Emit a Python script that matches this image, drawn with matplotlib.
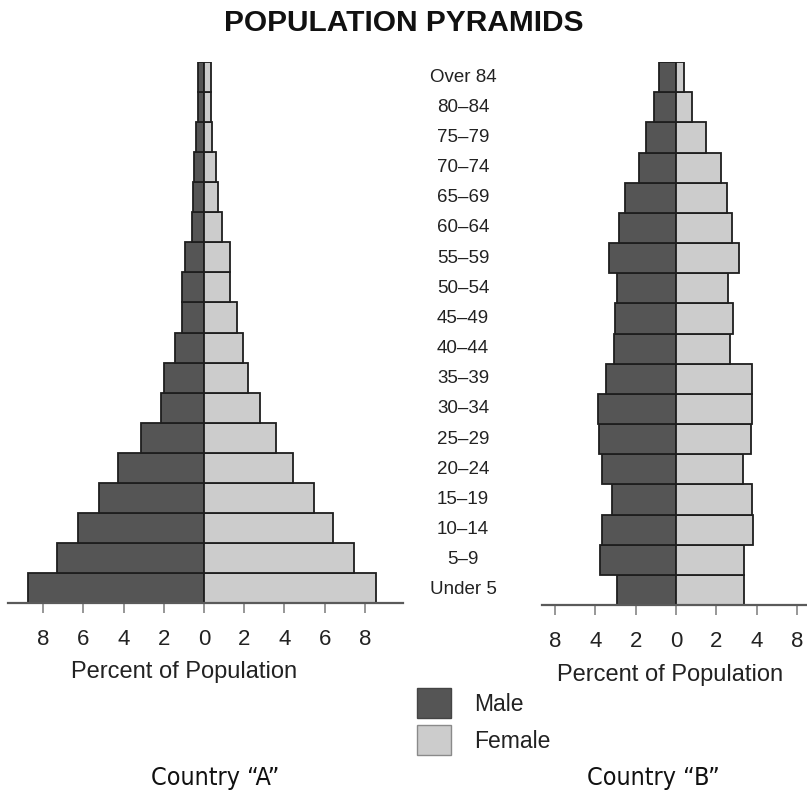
import matplotlib
matplotlib.use("Agg")
import matplotlib.pyplot as plt
import matplotlib.transforms as mtransforms
from matplotlib.patches import Patch
import numpy as np

# Age groups, youngest first
age_groups = ["Under 5", "5\u20139", "10\u201314", "15\u201319", "20\u201324", "25\u201329",
              "30\u201334", "35\u201339", "40\u201344", "45\u201349", "50\u201354", "55\u201359",
              "60\u201364", "65\u201369", "70\u201374", "75\u201379", "80\u201384", "Over 84"]

# Country "A": percent of population by age group
male_a = [8.75, 7.3, 6.25, 5.2, 4.3, 3.15, 2.15, 2.0, 1.45, 1.1, 1.1, 0.95,
          0.6, 0.55, 0.5, 0.4, 0.3, 0.3]
female_a = [8.55, 7.45, 6.4, 5.45, 4.45, 3.6, 2.8, 2.2, 1.95, 1.65, 1.3, 1.3,
            0.9, 0.7, 0.6, 0.4, 0.35, 0.35]

# Country "B": percent of population by age group
male_b = [2.95, 3.75, 3.65, 3.2, 3.65, 3.8, 3.85, 3.45, 3.1, 3.05, 2.95, 3.35,
          2.85, 2.55, 1.85, 1.5, 1.1, 0.85]
female_b = [3.35, 3.35, 3.8, 3.75, 3.3, 3.7, 3.75, 3.75, 2.7, 2.85, 2.6, 3.15,
            2.8, 2.55, 2.25, 1.5, 0.8, 0.4]

# Tick positions and their printed labels
ticks_a = [-8, -6, -4, -2, 0, 2, 4, 6, 8]
ticklabels_a = ["8", "6", "4", "2", "0", "2", "4", "6", "8"]
ticks_b = [-6, -4, -2, 0, 2, 4, 6]
ticklabels_b = ["8", "4", "2", "0", "2", "4", "8"]

MALE_COLOR = "#555555"
FEMALE_COLOR = "#cccccc"
EDGE_COLOR = "#1e1e1e"
AXIS_COLOR = "#5a5a5a"
SANS = ["Liberation Sans", "DejaVu Sans"]

plt.rcParams["font.family"] = SANS

W, H = 807, 799
fig = plt.figure(figsize=(W / 100, H / 100), dpi=100)


def px_axes(left, top, right, bottom):
    return fig.add_axes([left / W, 1 - bottom / H, (right - left) / W, (bottom - top) / H])


def pyramid(ax, male, female, xlim, ticks, ticklabels, label_x):
    y = np.arange(len(age_groups)) + 0.5
    ax.barh(y, -np.asarray(male), height=1.0, color=MALE_COLOR,
            edgecolor=EDGE_COLOR, linewidth=1.3)
    ax.barh(y, female, height=1.0, color=FEMALE_COLOR,
            edgecolor=EDGE_COLOR, linewidth=1.3)
    ax.set_xlim(*xlim)
    ax.set_ylim(0, len(age_groups))
    for side in ("left", "right", "top"):
        ax.spines[side].set_visible(False)
    ax.spines["bottom"].set_color(AXIS_COLOR)
    ax.spines["bottom"].set_linewidth(1.6)
    ax.set_yticks([])
    ax.set_xticks(ticks)
    ax.set_xticklabels(ticklabels)
    ax.tick_params(axis="x", direction="out", length=7.5, width=1.1,
                   color="#7a7a7a", pad=11, labelsize=16, labelcolor="#222222")
    ax.set_xlabel("Percent of Population", fontsize=17, color="#222222")
    ax.xaxis.set_label_coords(label_x, -0.128)
    ax.xaxis.label.set_va("center")
    ax.set_facecolor("none")


axA = px_axes(8, 62, 403, 603)
pyramid(axA, male_a, female_a, (-9.75, 9.9), ticks_a, ticklabels_a, 0.446)

axB = px_axes(542, 62, 807, 605)
pyramid(axB, male_b, female_b, (-6.65, 6.5), ticks_b, ticklabels_b, 0.483)

# Age-group labels between the two pyramids
trans = mtransforms.blended_transform_factory(fig.transFigure, axB.transData)
for i, name in enumerate(age_groups):
    fig.text(463 / W, i + 0.5, name, transform=trans, ha="center", va="center",
             fontsize=13.5, color="#222222")

fig.text(404 / W, 1 - 23 / H, "POPULATION PYRAMIDS", ha="center", va="center",
         fontsize=21.5, fontweight="bold", color="#111111")

legend = fig.legend(
    handles=[Patch(facecolor=MALE_COLOR, edgecolor="#444444", linewidth=1.0),
             Patch(facecolor=FEMALE_COLOR, edgecolor="#8a8a8a", linewidth=1.0)],
    labels=["Male", "Female"], loc="upper left",
    bbox_to_anchor=(417 / W, 1 - 688 / H), frameon=False, borderpad=0,
    borderaxespad=0, handlelength=1.48, handleheight=1.65, handletextpad=1.0,
    labelspacing=0.3, fontsize=16.5)
for t in legend.get_texts():
    t.set_color("#222222")

fig.text(215 / W, 1 - 778 / H, "Country \u201cA\u201d", ha="center", va="center",
         fontsize=18, family=["DejaVu Sans Condensed", "DejaVu Sans"], stretch="condensed",
         color="#111111")
fig.text(653 / W, 1 - 778 / H, "Country \u201cB\u201d", ha="center", va="center",
         fontsize=18, family=["DejaVu Sans Condensed", "DejaVu Sans"], stretch="condensed",
         color="#111111")

fig.savefig("out.png", dpi=100, facecolor="white")
